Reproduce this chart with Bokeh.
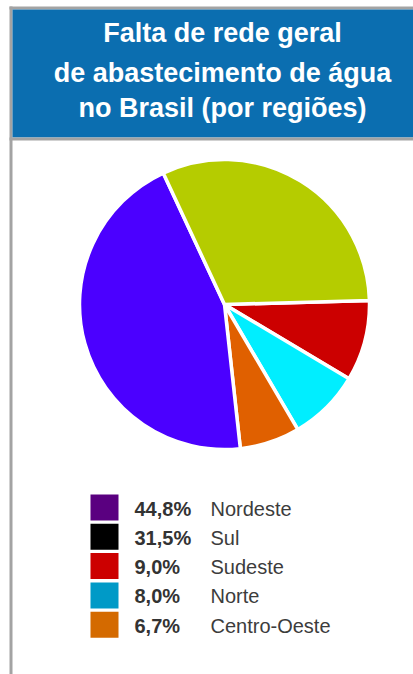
import math
from bokeh.plotting import figure
from bokeh.models import Range1d, ColumnDataSource
from bokeh.core.properties import value
from bokeh.embed import file_html
from bokeh.resources import INLINE

# ---- data ----
title_lines = ["Falta de rede geral", "de abastecimento de água", "no Brasil (por regiões)"]
regions = ["Nordeste", "Sul", "Sudeste", "Norte", "Centro-Oeste"]
shares = [44.8, 31.5, 9.0, 8.0, 6.7]
share_labels = ["44,8%", "31,5%", "9,0%", "8,0%", "6,7%"]
slice_colors = ["#4B00FF", "#B5CC00", "#CC0000", "#00EEFF", "#E06000"]
legend_colors = ["#5A0080", "#000000", "#CC0000", "#009AC7", "#D46A00"]
clockwise_order = [2, 3, 4, 0, 1]  # Sudeste, Norte, Centro-Oeste, Nordeste, Sul

W, H = 413, 674
PAGE_H = 674


def Y(py):
    # page y (downwards) -> data y (upwards)
    return PAGE_H - py


p = figure(width=W, height=H, x_range=Range1d(0, W), y_range=Range1d(Y(674), Y(0)),
           output_backend="svg", toolbar_location=None, min_border=0)
p.axis.visible = False
p.grid.visible = False
p.outline_line_color = None
p.background_fill_color = "white"
p.border_fill_color = "white"

gray = "#A3A3A3"
# frame lines
p.quad(left=[9], right=[413], top=[Y(6)], bottom=[Y(9)], fill_color=gray, line_color=None)
p.quad(left=[9], right=[12], top=[Y(6)], bottom=[Y(674)], fill_color=gray, line_color=None)
# header box
p.quad(left=[12], right=[413], top=[Y(9)], bottom=[Y(137)], fill_color="#0B6EB0", line_color=None)
p.quad(left=[9], right=[413], top=[Y(137)], bottom=[Y(140)], fill_color=gray, line_color=None)

centers = [32.5, 72, 107]
p.text(x=[222] * 3, y=[Y(c) for c in centers], text=title_lines,
       text_font=value("Liberation Sans"), text_font_style="bold", text_font_size="27px",
       text_color="white", text_align="center", text_baseline="middle")

# ---- pie ----
cx, cy, r = 224, Y(304), 145
anchor = math.radians(1.6)
cur = anchor
starts, ends, cols = [], [], []
total = sum(shares)
for i in clockwise_order:
    span = shares[i] / total * 2 * math.pi
    ends.append(cur)
    starts.append(cur - span)
    cols.append(slice_colors[i])
    cur -= span
src = ColumnDataSource(dict(start=starts, end=ends, color=cols))
p.wedge(x=cx, y=cy, radius=r, start_angle="start", end_angle="end", fill_color="color",
        line_color="white", line_width=3.5, source=src)

# ---- legend ----
row_top0 = 494
pitch = 29.3
tops = [row_top0 + k * pitch for k in range(len(regions))]
p.quad(left=[90] * 5, right=[118] * 5, top=[Y(t) for t in tops], bottom=[Y(t + 26) for t in tops],
       fill_color=legend_colors, line_color=None)
p.text(x=[134] * 5, y=[Y(t + 14) for t in tops], text=share_labels,
       text_font=value("Liberation Sans"), text_font_style="bold", text_font_size="20px",
       text_color="#333333", text_align="left", text_baseline="middle")
p.text(x=[210] * 5, y=[Y(t + 14) for t in tops], text=regions,
       text_font=value("Liberation Sans"), text_font_size="20px",
       text_color="#3C3C3C", text_align="left", text_baseline="middle")

open("out.html", "w").write(file_html(p, INLINE))
